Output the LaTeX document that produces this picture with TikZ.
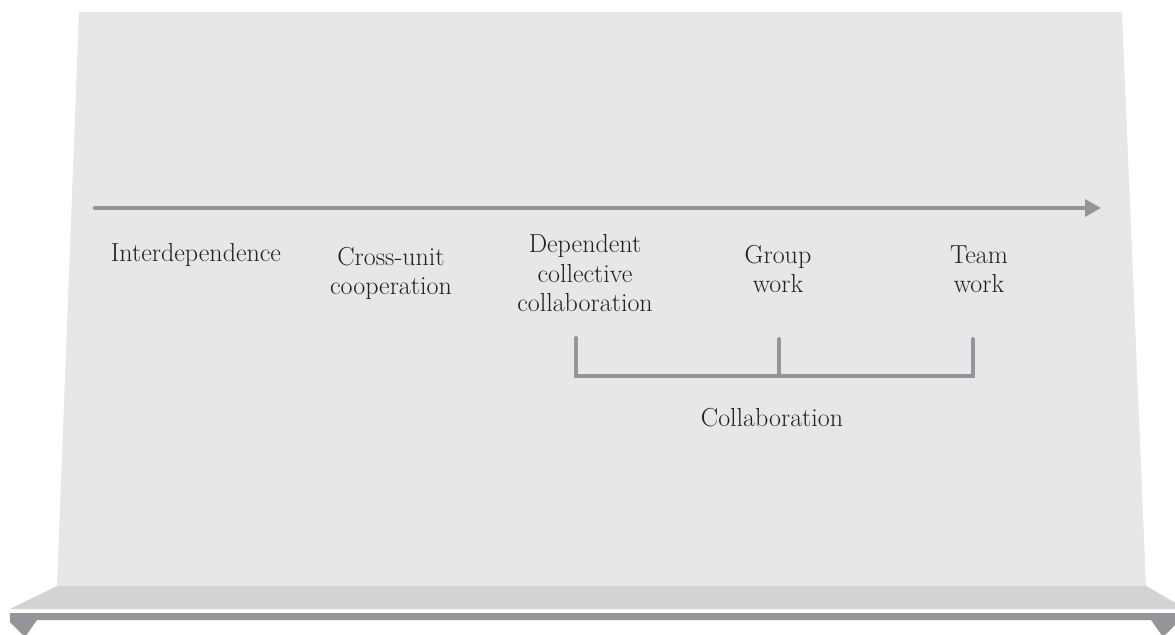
\documentclass[tikz,border=0pt]{standalone}
\usepackage{xcolor}
\usepackage{tikz}
\usetikzlibrary{arrows.meta}

\definecolor{panelgrey}{HTML}{E6E7E8}
\definecolor{shelfgrey}{HTML}{D1D3D4}
\definecolor{bargrey}{HTML}{939598}
\definecolor{textblack}{HTML}{231F20}

\begin{document}
\begin{tikzpicture}[
    x=0.025cm, y=-0.025cm,
    stage/.style={anchor=base, align=center, text=textblack, inner sep=0pt, font=\fontsize{18.5}{21.3}\selectfont},
    axis/.style={-{Triangle[length=0.4cm, width=0.42cm]}, draw=bargrey, line width=3.5pt, line cap=round},
    bracket/.style={draw=bargrey, line width=2.8pt, line cap=round}
]
\clip (0,0) rectangle (1175,635);

% Backdrop
\fill[panelgrey] (79,12) -- (1122,12) -- (1146,586) -- (57,586) -- cycle;
\fill[shelfgrey] (57,586) -- (1146,586) -- (1186,609) -- (10,609) -- cycle;
\fill[bargrey] (10,613) -- (1178,613) -- (1178,622) -- (1163,637) -- (1151,620)
    -- (37,620) -- (25,637) -- (10,622) -- cycle;

% Axis
\coordinate (axstart) at (95,208);
\coordinate (axend) at (1101,208);
\draw[axis] (axstart) -- (axend);

% Stages (anchored at the baseline of the last line)
\node[stage] (interdep) at (196,262) {Interdependence};
\node[stage] (crossunit) at (391,295) {Cross-unit\\cooperation};
\node[stage] (depcoll) at (585,312) {Dependent\\collective\\collaboration};
\node[stage] (groupwork) at (778,293) {Group\\work};
\node[stage] (teamwork) at (979,293) {Team\\work};

% Bracket
\coordinate (brL) at (576,338);
\coordinate (brM) at (779,339);
\coordinate (brR) at (973,339);
\coordinate (brLb) at (576,376);
\coordinate (brRb) at (973,376);
\draw[bracket] (brL) -- (brLb) -- (brRb) -- (brR);
\draw[bracket] (brM) -- (brM |- brLb);
\node[stage] (collab) at (772,426) {Collaboration};

\end{tikzpicture}
\end{document}
